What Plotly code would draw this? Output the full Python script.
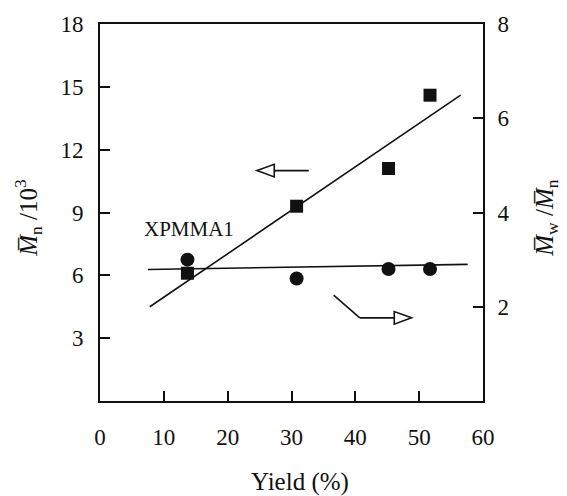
import plotly.graph_objects as go

# Yield (%) of each sample
yield_pct = [13.7, 30.8, 45.2, 51.7]
# Number-average molecular weight, Mn / 10^3 (left axis)
mn_k = [6.1, 9.3, 11.1, 14.6]
# Polydispersity Mw/Mn (right axis)
pdi = [3.0, 2.6, 2.8, 2.8]

# Straight-line fits drawn through each series
mn_fit_x = [7.8, 56.5]
mn_fit_y = [4.5, 14.6]
pdi_fit_x = [7.5, 57.6]
pdi_fit_y = [2.79, 2.90]

# Axis indicator arrows (in x / left-axis units): shaft points, then tip
left_arrow_shaft = ([32.7, 27.3], [11.0, 11.0])
left_arrow_tip = (24.6, 11.0)
right_arrow_shaft = ([36.6, 40.7, 46.1], [5.05, 3.97, 3.97])
right_arrow_tip = (48.8, 3.97)

FONT = "Times New Roman, Liberation Serif, serif"
BLACK = "#111111"

fig = go.Figure()

fig.add_trace(go.Scatter(x=mn_fit_x, y=mn_fit_y, mode="lines",
                         line=dict(color=BLACK, width=1.6), showlegend=False))
fig.add_trace(go.Scatter(x=pdi_fit_x, y=pdi_fit_y, mode="lines", yaxis="y2",
                         line=dict(color=BLACK, width=1.6), showlegend=False))
fig.add_trace(go.Scatter(x=yield_pct, y=mn_k, mode="markers",
                         marker=dict(symbol="square", size=13, color=BLACK),
                         showlegend=False))
fig.add_trace(go.Scatter(x=yield_pct, y=pdi, mode="markers", yaxis="y2",
                         marker=dict(symbol="circle", size=14, color=BLACK),
                         showlegend=False))


def open_arrow(shaft, tip, direction):
    """Polyline shaft plus an open triangular head pointing left (-1) or right (+1)."""
    xs, ys = shaft
    shapes = []
    for i in range(len(xs) - 1):
        shapes.append(dict(type="line", xref="x", yref="y",
                           x0=xs[i], y0=ys[i], x1=xs[i + 1], y1=ys[i + 1],
                           line=dict(color=BLACK, width=1.6)))
    tx, ty = tip
    bx = tx - direction * 2.7
    half = 0.3
    path = f"M {tx},{ty} L {bx},{ty + half} L {bx},{ty - half} Z"
    shapes.append(dict(type="path", xref="x", yref="y", path=path,
                       fillcolor="white", line=dict(color=BLACK, width=1.6)))
    return shapes


shapes = open_arrow(left_arrow_shaft, left_arrow_tip, -1) + \
    open_arrow(right_arrow_shaft, right_arrow_tip, 1)

axis_common = dict(showline=True, linecolor=BLACK, linewidth=2,
                   ticks="inside", ticklen=10, tickwidth=1.5, tickcolor=BLACK,
                   showgrid=False, zeroline=False,
                   tickfont=dict(family=FONT, size=23, color=BLACK))

fig.update_layout(
    width=567, height=496,
    margin=dict(l=100, r=84, t=20, b=95),
    paper_bgcolor="white", plot_bgcolor="white",
    font=dict(family=FONT, color=BLACK),
    xaxis=dict(range=[0, 60], tickvals=[0, 10, 20, 30, 40, 50, 60],
               mirror=True, ticklabelstandoff=14, **axis_common),
    yaxis=dict(range=[0, 18], tickvals=[3, 6, 9, 12, 15, 18],
               ticklabelstandoff=10, **axis_common),
    yaxis2=dict(range=[0, 8], tickvals=[2, 4, 6, 8], overlaying="y",
                side="right", ticklabelstandoff=8, **axis_common),
    shapes=shapes,
    annotations=[
        dict(text="XPMMA1", x=13.9, y=8.2, xref="x", yref="y", showarrow=False,
             xanchor="center", yanchor="middle",
             font=dict(family=FONT, size=21, color=BLACK)),
        dict(text="Yield (%)", x=0.522, y=-0.215, xref="paper", yref="paper",
             xanchor="center", yanchor="middle", showarrow=False,
             font=dict(family=FONT, size=25, color=BLACK)),
        dict(text="<i>M\u0305</i><sub>n</sub> /10<sup>3</sup>", x=-0.188, y=0.486,
             xref="paper", yref="paper", textangle=-90, showarrow=False,
             xanchor="center", yanchor="middle",
             font=dict(family=FONT, size=25, color=BLACK)),
        dict(text="<i>M\u0305</i><sub>w</sub> /<i>M\u0305</i><sub>n</sub>",
             x=1.167, y=0.486, xref="paper", yref="paper", textangle=-90,
             showarrow=False, xanchor="center", yanchor="middle",
             font=dict(family=FONT, size=25, color=BLACK)),
    ],
)

fig.write_html("out.html")
